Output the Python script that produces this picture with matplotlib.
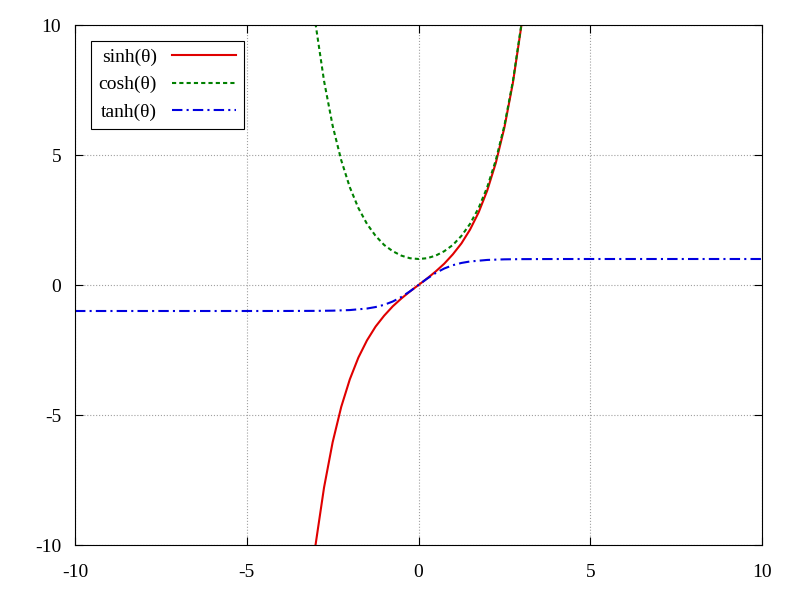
import matplotlib
matplotlib.use('Agg')
import matplotlib.pyplot as plt

plt.rcParams['font.family'] = ['Liberation Serif', 'DejaVu Serif']
plt.rcParams['axes.unicode_minus'] = False

# values
theta_h = [-3, -2.75, -2.5, -2.25, -2, -1.75, -1.5, -1.25, -1, -0.75, -0.5, -0.25,
           0, 0.25, 0.5, 0.75, 1, 1.25, 1.5, 1.75, 2, 2.25, 2.5, 2.75, 3]
sinh_v = [-10.02, -7.79, -6.05, -4.69, -3.63, -2.79, -2.13, -1.60, -1.18, -0.82, -0.52, -0.25,
          0, 0.25, 0.52, 0.82, 1.18, 1.60, 2.13, 2.79, 3.63, 4.69, 6.05, 7.79, 10.02]
cosh_v = [10.07, 7.85, 6.13, 4.80, 3.76, 2.96, 2.35, 1.89, 1.54, 1.30, 1.13, 1.03,
          1.0, 1.03, 1.13, 1.30, 1.54, 1.89, 2.35, 2.96, 3.76, 4.80, 6.13, 7.85, 10.07]
theta_t = [-10, -5, -4, -3, -2.5, -2, -1.5, -1.25, -1, -0.75, -0.5, -0.25,
           0, 0.25, 0.5, 0.75, 1, 1.25, 1.5, 2, 2.5, 3, 4, 5, 10]
tanh_v = [-1.0, -0.9999, -0.9993, -0.995, -0.987, -0.964, -0.905, -0.848, -0.762, -0.635, -0.462, -0.245,
          0, 0.245, 0.462, 0.635, 0.762, 0.848, 0.905, 0.964, 0.987, 0.995, 0.9993, 0.9999, 1.0]

ticks = [-10, -5, 0, 5, 10]

fig = plt.figure(figsize=(8, 6), dpi=100)
ax = fig.add_axes([75 / 800, 55 / 600, 687 / 800, 520 / 600])

ax.plot(theta_h, sinh_v, color='#e00000', lw=1.5, label='sinh(θ)')
ax.plot(theta_h, cosh_v, color='#008000', lw=1.5, ls=(0, (2, 1.5)), label='cosh(θ)')
ax.plot(theta_t, tanh_v, color='#0000e0', lw=1.5, ls=(0, (5, 2, 1, 2)), label='tanh(θ)')

ax.set_xlim(-10, 10)
ax.set_ylim(-10, 10)
ax.set_xticks(ticks)
ax.set_yticks(ticks)
ax.tick_params(direction='in', top=True, right=True, labelsize=14, length=6)
ax.tick_params(axis='x', pad=14)
ax.tick_params(axis='y', pad=10)
ax.grid(True, color='#a0a0a0', ls=':', lw=0.8)

leg = ax.legend(loc='upper left', markerfirst=False, fontsize=14, fancybox=False,
                framealpha=1, edgecolor='black', handlelength=3.3, borderaxespad=0.8)
leg.get_frame().set_linewidth(0.8)

fig.savefig('out.png')
